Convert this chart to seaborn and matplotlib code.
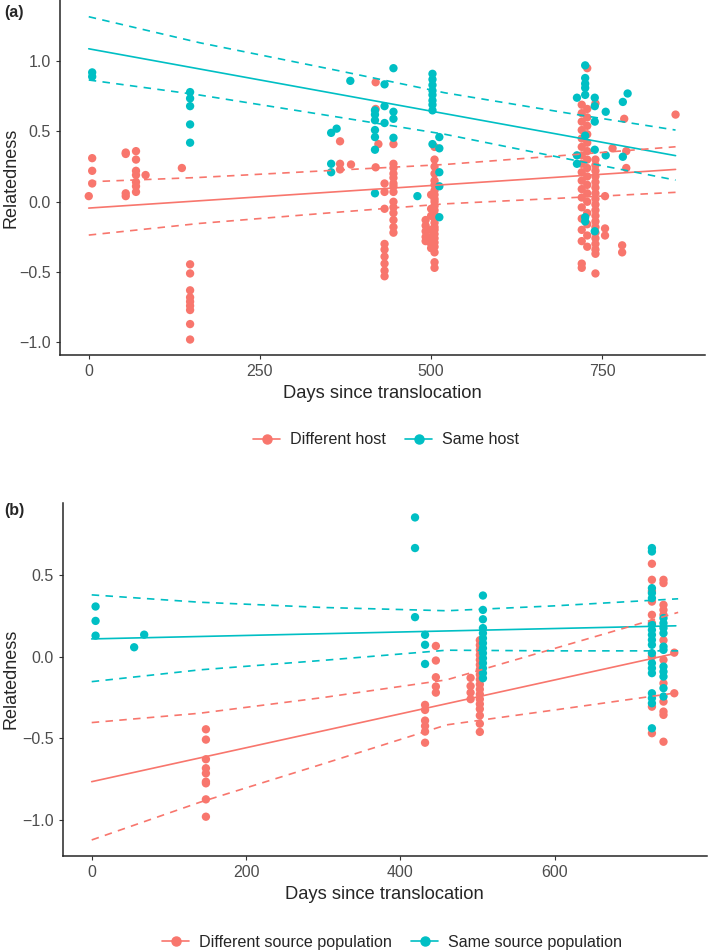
import pandas as pd
import matplotlib.pyplot as plt
from matplotlib.lines import Line2D
import seaborn as sns

RED = '#F8766D'
CYAN = '#00BFC4'

# ---- panel (a): host comparison, (day, [relatedness ...]) ----
host_diff = [
    (0, [0.04]),
    (5, [0.31, 0.22, 0.13]),
    (54, [0.35, 0.34, 0.06, 0.04]),
    (69, [0.36, 0.30, 0.22, 0.19, 0.14, 0.11, 0.07]),
    (83, [0.19]),
    (136, [0.24]),
    (148, [-0.445, -0.51, -0.63, -0.68, -0.71, -0.74, -0.77, -0.87, -0.98]),
    (367, [0.43, 0.27, 0.23]),
    (383, [0.265]),
    (419, [0.85, 0.66, 0.245]),
    (423, [0.41]),
    (432, [0.13, 0.07, -0.05, -0.30, -0.34, -0.39, -0.44, -0.49, -0.53]),
    (445, [0.41, 0.27, 0.24, 0.20, 0.17, 0.13, 0.11, 0.07, 0.0, -0.04, -0.08, -0.13, -0.18, -0.22]),
    (492, [-0.13, -0.17, -0.21, -0.25, -0.28]),
    (500, [0.05, -0.05, -0.10, -0.20, -0.25, -0.30, -0.33]),
    (505, [0.39, 0.30, 0.25, 0.20, 0.15, 0.12, 0.08, 0.05, 0.02, 0.0, -0.03, -0.06, -0.09, -0.12,
           -0.15, -0.18, -0.20, -0.23, -0.26, -0.29, -0.32, -0.36, -0.43, -0.47]),
    (720, [0.69, 0.63, 0.57, 0.51, 0.45, 0.39, 0.33, 0.27, 0.21, 0.15, 0.09, 0.03, -0.04, -0.12,
           -0.20, -0.28, -0.44, -0.47]),
    (728, [0.95, 0.66, 0.60, 0.54, 0.48, 0.42, 0.36, 0.30, 0.24, 0.18, 0.12, 0.06, 0.0, -0.08,
           -0.16, -0.24, -0.32]),
    (740, [0.70, 0.30, 0.26, 0.22, 0.18, 0.14, 0.10, 0.06, 0.02, -0.02, -0.06, -0.10, -0.14, -0.18,
           -0.22, -0.26, -0.30, -0.34, -0.37, -0.51]),
    (754, [0.04, -0.19, -0.24]),
    (765, [0.38]),
    (779, [-0.31, -0.36]),
    (782, [0.59]),
    (785, [0.36, 0.24]),
    (857, [0.62]),
]
host_same = [
    (5, [0.92, 0.89]),
    (148, [0.78, 0.735, 0.68, 0.55, 0.42]),
    (354, [0.49, 0.27, 0.21]),
    (362, [0.52]),
    (382, [0.86]),
    (418, [0.65, 0.62, 0.58, 0.51, 0.46, 0.37, 0.06]),
    (432, [0.835, 0.68, 0.56]),
    (445, [0.95, 0.64, 0.59, 0.455]),
    (480, [0.04]),
    (502, [0.91, 0.87, 0.83, 0.79, 0.76, 0.72, 0.69, 0.65, 0.41]),
    (512, [0.46, 0.38, 0.21, 0.11, -0.11]),
    (713, [0.74, 0.33, 0.27]),
    (725, [0.97, 0.88, 0.84, 0.81, 0.76, 0.47, -0.11, -0.14]),
    (739, [0.74, 0.68, 0.57, 0.37, -0.21]),
    (755, [0.64, 0.33]),
    (780, [0.71, 0.32]),
    (787, [0.77]),
]
host_fit_days = [0, 857]
host_diff_fit = [-0.045, 0.23]
host_same_fit = [1.088, 0.328]
host_band_days = [0, 162, 367, 520, 700, 857]
host_same_upper = [1.316, 1.131, 0.93, 0.775, 0.63, 0.51]
host_same_lower = [0.866, 0.759, 0.60, 0.48, 0.304, 0.154]
host_diff_upper = [0.142, 0.173, 0.226, 0.265, 0.332, 0.391]
host_diff_lower = [-0.237, -0.154, -0.073, -0.015, 0.028, 0.067]

# ---- panel (b): source population comparison ----
src_diff = [
    (148, [-0.444, -0.507, -0.627, -0.682, -0.713, -0.764, -0.774, -0.872, -0.978]),
    (432, [-0.295, -0.326, -0.391, -0.424, -0.458, -0.526]),
    (446, [0.065, -0.024, -0.126, -0.183, -0.22]),
    (491, [-0.13, -0.18, -0.22, -0.26]),
    (503, [0.10, 0.07, 0.04, 0.01, -0.02, -0.05, -0.08, -0.11, -0.14, -0.17, -0.20, -0.23,
           -0.26, -0.29, -0.32, -0.36, -0.41, -0.46]),
    (726, [0.567, 0.469, 0.40, 0.336, 0.255, 0.204, 0.0, -0.306, -0.468]),
    (741, [0.469, 0.449, 0.316, 0.285, 0.255, 0.10, -0.02, -0.163, -0.275, -0.336, -0.356, -0.52]),
    (755, [0.024, -0.224]),
]
src_same = [
    (5, [0.306, 0.218, 0.128]),
    (55, [0.057]),
    (68, [0.134]),
    (419, [0.85, 0.663, 0.241]),
    (432, [0.133, 0.072, -0.045]),
    (507, [0.373, 0.285, 0.228, 0.174, 0.143, 0.112, 0.082, 0.051, 0.021, -0.01, -0.04, -0.071,
           -0.101, -0.132]),
    (726, [0.663, 0.642, 0.418, 0.388, 0.357, 0.194, 0.163, 0.133, 0.102, 0.072, 0.021, -0.04,
           -0.071, -0.101, -0.224, -0.254, -0.285, -0.438]),
    (741, [0.235, 0.204, 0.174, 0.143, 0.061, 0.041, -0.061, -0.092, -0.122, -0.193, -0.244]),
]
src_fit_days = [0, 757]
src_diff_fit = [-0.764, 0.02]
src_same_fit = [0.108, 0.188]
src_band_days = [0, 140, 300, 460, 600, 760]
src_same_upper = [0.377, 0.332, 0.30, 0.28, 0.31, 0.353]
src_same_lower = [-0.153, -0.081, -0.023, 0.039, 0.035, 0.035]
src_diff_upper = [-0.403, -0.346, -0.25, -0.142, 0.05, 0.27]
src_diff_lower = [-1.12, -0.89, -0.655, -0.417, -0.326, -0.22]


def to_frame(groups, label):
    rows = [(d, v, label) for d, vals in groups for v in vals]
    return pd.DataFrame(rows, columns=['days', 'rel', 'group'])


def draw_panel(ax, diff, same, labels, fit_days, fits, band_days, bands, xlim, ylim, xticks, yticks):
    df = pd.concat([to_frame(diff, labels[0]), to_frame(same, labels[1])])
    sns.scatterplot(data=df, x='days', y='rel', hue='group', palette=[RED, CYAN],
                    s=36, linewidth=0, alpha=1, legend=False, ax=ax, zorder=2)
    for fit, col in zip(fits, [RED, CYAN]):
        sns.lineplot(x=fit_days, y=fit, color=col, lw=1.2, ax=ax, zorder=3)
    for band, col in zip(bands, [RED, RED, CYAN, CYAN]):
        sns.lineplot(x=band_days, y=band, color=col, lw=1.2, ax=ax, zorder=3,
                     linestyle=(0, (4.5, 3.8)))
    ax.set_xlim(*xlim)
    ax.set_ylim(*ylim)
    ax.set_xticks(xticks)
    ax.set_yticks(yticks)
    ax.set_xlabel('Days since translocation', fontsize=13.2, labelpad=4)
    ax.set_ylabel('Relatedness', fontsize=13)
    ax.tick_params(labelsize=11.5, labelcolor='#4D4D4D', length=3, width=0.8, color='#333333')
    for sp in ['left', 'bottom']:
        ax.spines[sp].set_linewidth(1.1)
    sns.despine(ax=ax)
    handles = [Line2D([], [], color=c, marker='o', markersize=6.5, lw=1.2) for c in [RED, CYAN]]
    return handles


sns.set_style('ticks')
plt.rcParams['font.family'] = ['Liberation Sans', 'DejaVu Sans']
plt.rcParams['axes.unicode_minus'] = True

fig = plt.figure(figsize=(7.09, 9.51), dpi=100)
ax1 = fig.add_axes([60 / 709, 1 - 355 / 951, 645 / 709, 355 / 951])
ax2 = fig.add_axes([62.7 / 709, 1 - 856 / 951, 644 / 709, 353.3 / 951])

h1 = draw_panel(ax1, host_diff, host_same, ['Different host', 'Same host'],
                host_fit_days, [host_diff_fit, host_same_fit],
                host_band_days, [host_diff_upper, host_diff_lower, host_same_upper, host_same_lower],
                (-42, 900), (-1.09, 1.435), [0, 250, 500, 750], [-1.0, -0.5, 0.0, 0.5, 1.0])
h2 = draw_panel(ax2, src_diff, src_same, ['Different source population', 'Same source population'],
                src_fit_days, [src_diff_fit, src_same_fit],
                src_band_days, [src_diff_upper, src_diff_lower, src_same_upper, src_same_lower],
                (-37.6, 797), (-1.218, 0.94), [0, 200, 400, 600], [-1.0, -0.5, 0.0, 0.5])

# y titles placed a few px in from the figure edge
ax1.yaxis.set_label_coords((20 - 60) / 645, 0.5)
ax2.yaxis.set_label_coords((20 - 62.7) / 644, 0.5)

fig.legend(h1, ['Different host', 'Same host'], loc='center', bbox_to_anchor=(386 / 709, 1 - 440 / 951),
           ncol=2, frameon=False, fontsize=11.6, handlelength=1.7, columnspacing=1.2, handletextpad=0.6)
fig.legend(h2, ['Different source population', 'Same source population'], loc='center',
           bbox_to_anchor=(392 / 709, 1 - 942 / 951),
           ncol=2, frameon=False, fontsize=11.6, handlelength=1.7, columnspacing=1.2, handletextpad=0.6)

fig.text(4 / 709, 1 - 12 / 951, '(a)', fontsize=11.5, fontweight='bold', va='center')
fig.text(4 / 709, 1 - 510 / 951, '(b)', fontsize=11.5, fontweight='bold', va='center')

fig.savefig('out.png', dpi=100)
